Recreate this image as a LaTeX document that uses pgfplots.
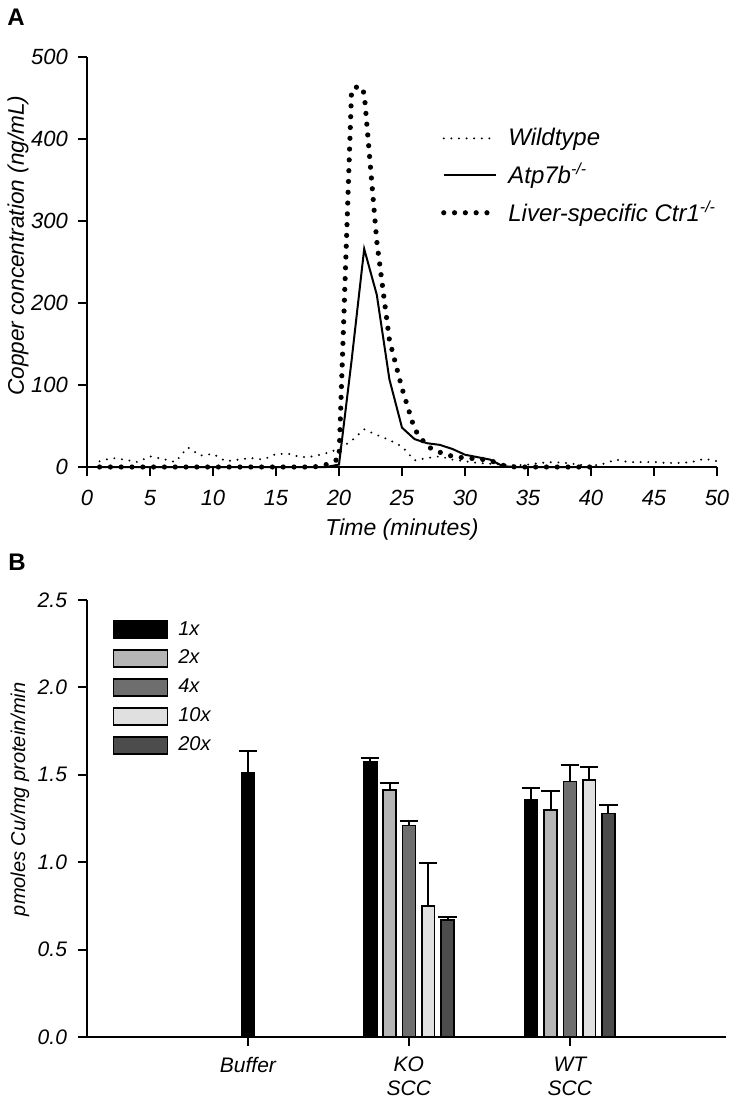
\documentclass[border=0pt]{standalone}
\usepackage{fontspec}
\setmainfont{Liberation Sans}
\usepackage{pgfplots}
\pgfplotsset{compat=1.18}
\definecolor{gtwo}{gray}{0.71}
\definecolor{gfour}{gray}{0.43}
\definecolor{gten}{gray}{0.88}
\definecolor{gtwenty}{gray}{0.30}
\pgfplotsset{longline/.style={legend image code/.code={\draw[##1] (0pt,0pt) -- (26pt,0pt);}}}

\pgfplotstableread{
t v
1 7
2 11
3 9
4 6
5 13
6 10
7 6
8 24
9 14
10 16
11 7
12 9
13 11
14 9
15 16
16 16
17 12
18 13
19 17
20 22
21 32
22 46
23 39
24 33
25 25
26 8
27 11
28 13
29 9
30 7
31 5
32 4
33 3
34 2
35 3
36 5
37 6
38 5
39 3
40 1
41 4
42 9
43 6
44 6
45 6
46 5
47 5
48 6
49 10
50 7
}\wildtype

\pgfplotstableread{
t v
1 0
5 0
10 0
15 0
19 0
20 3
21 130
22 266
23 210
24 107
25 48
26 34
27 29
28 27
29 22
30 15
31 12
32 9
33 1
34 0
40 0
}\atp

\pgfplotstableread{
t v
1 0
18 0
19 3
20 10
21 460
21.6 465
22 456
23 275
24 155
25 96
26 46
27 25
28 18
29 13
30 11
31 10
32 8
33 2
34 0
40 0
}\ctr

\begin{document}
\begin{tikzpicture}
\useasboundingbox (0pt,0pt) rectangle (368.5pt,-558pt);
\node[font=\bfseries\fontsize{12}{14}\selectfont] at (8pt,-8.5pt) {A};
\node[font=\bfseries\fontsize{12}{14}\selectfont] at (8.5pt,-281pt) {B};

\begin{axis}[
  at={(43.5pt,-233.5pt)}, anchor=south west,
  scale only axis, width=315pt, height=205pt,
  xmin=0, xmax=50, ymin=0, ymax=500,
  axis lines=left, axis line style={-, line width=1pt},
  tick align=outside, major tick length=4.5pt,
  tick style={line width=1pt, black},
  xtick={0,5,...,50}, ytick={0,100,...,500},
  /pgf/number format/assume math mode=true,
  tick label style={font=\itshape\fontsize{11}{13}\selectfont},
  yticklabel style={xshift=-1.5pt},
  xticklabel style={yshift=-3.5pt},
  xlabel={\itshape Time (minutes)},
  ylabel={\itshape Copper concentration (ng/mL)},
  xlabel style={font=\fontsize{11.5}{13}\selectfont, at={(axis description cs:0.5,0)}, yshift=-31.5pt, anchor=center},
  ylabel style={font=\fontsize{11.3}{13}\selectfont, at={(axis description cs:-0.1095,0.54)}, anchor=center},
  clip=false,
  legend style={draw=none, fill=none, at={(axis cs:27.6,421)}, anchor=north west,
    font=\itshape\fontsize{12}{14}\selectfont, row sep=5.3pt,
    nodes={inner sep=1pt}, /tikz/every odd column/.append style={column sep=4pt}},
  legend cell align=left,
]
\addplot[black, line width=1.1pt, line cap=round, dash pattern=on 0pt off 3.8pt, longline] table[x=t,y=v] {\wildtype};
\addlegendentry{Wildtype}
\addplot[black, line width=1pt, longline] table[x=t,y=v] {\atp};
\addlegendentry{Atp7b\textsuperscript{-/-}}
\addplot[black, line width=2.6pt, line cap=round, dash pattern=on 0pt off 5.4pt, longline] table[x=t,y=v] {\ctr};
\addlegendentry{Liver-specific Ctr1\textsuperscript{-/-}}
\end{axis}

\begin{axis}[
  at={(43.5pt,-518.5pt)}, anchor=south west,
  scale only axis, width=319.5pt, height=218.5pt,
  xmin=0, xmax=3.97, ymin=0, ymax=2.5,
  axis lines=left, axis line style={-, line width=1pt},
  tick align=outside, major tick length=4.5pt,
  tick style={line width=1pt, black},
  xtick={1,2,3}, xticklabels={Buffer, KO\\SCC, WT\\SCC},
  ytick={0,0.5,...,2.5},
  /pgf/number format/assume math mode=true,
  /pgf/number format/fixed, /pgf/number format/fixed zerofill,
  /pgf/number format/precision=1,
  tick label style={font=\itshape\fontsize{10.5}{12}\selectfont},
  yticklabel style={xshift=-2pt},
  xticklabel style={align=center, yshift=-2pt},
  ylabel={\itshape pmoles Cu/mg protein/min},
  ylabel style={font=\fontsize{10}{12}\selectfont, at={(axis description cs:-0.105,0.544)}, anchor=center},
  ybar, bar width=0.08,
  every axis plot/.append style={bar shift=0pt, draw=black, line width=0.8pt},
  error bars/y dir=plus, error bars/y explicit,
  error bars/error bar style={line width=1pt, black, solid},
  error bars/error mark options={rotate=90, mark size=4.6pt, line width=1pt, black},
  clip=false,
  legend image code/.code={\draw[#1, draw=black, line width=0.8pt] (0pt,-4.25pt) rectangle (27pt,4.25pt);},
  legend style={draw=none, fill=none, at={(axis cs:0.12,2.415)}, anchor=north west,
    font=\itshape\fontsize{10}{12}\selectfont, row sep=4pt,
    nodes={inner sep=1pt}, /tikz/every odd column/.append style={column sep=4pt}},
  legend cell align=left,
]
\addplot[fill=black] coordinates {(1,1.514) +- (0,0.123) (1.76,1.577) +- (0,0.017) (2.76,1.356) +- (0,0.068)};
\addlegendentry{1x}
\addplot[fill=gtwo] coordinates {(1.88,1.413) +- (0,0.040) (2.88,1.299) +- (0,0.110)};
\addlegendentry{2x}
\addplot[fill=gfour] coordinates {(2,1.209) +- (0,0.029) (3,1.462) +- (0,0.097)};
\addlegendentry{4x}
\addplot[fill=gten] coordinates {(2.12,0.748) +- (0,0.246) (3.12,1.470) +- (0,0.074)};
\addlegendentry{10x}
\addplot[fill=gtwenty] coordinates {(2.24,0.670) +- (0,0.019) (3.24,1.278) +- (0,0.049)};
\addlegendentry{20x}
\end{axis}
\end{tikzpicture}
\end{document}
